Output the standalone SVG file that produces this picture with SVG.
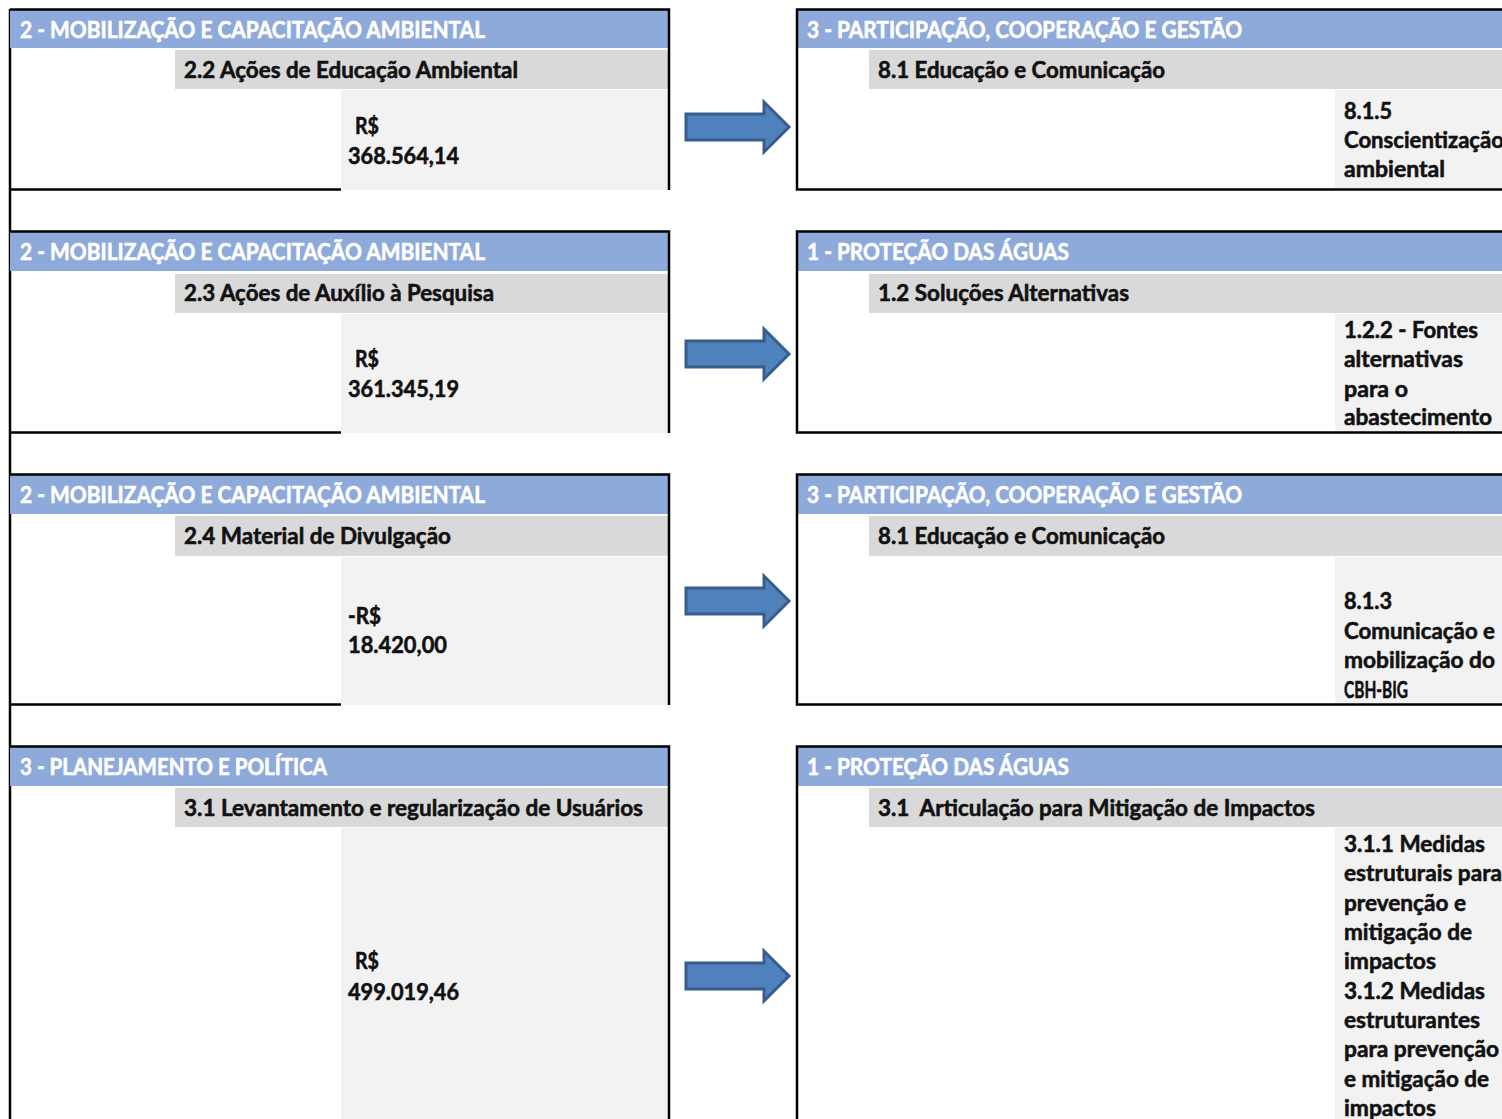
<svg xmlns="http://www.w3.org/2000/svg" width="1502" height="1119" viewBox="0 0 1502 1119">
<style>
.hd{fill:#8EAADB}
.sub{fill:#D9D9D9}
.pan{fill:#F2F2F2}
.bd{fill:none;stroke:#000;stroke-width:2.5}
text{font-family:Lato,"Open Sans","Liberation Sans",sans-serif;font-weight:700;font-size:22px;fill:#111;stroke:#111;stroke-width:0.55}
.ht{fill:#fff;stroke:#fff}
.arr{fill:#4F81BD;stroke:#385D8A;stroke-width:3;stroke-linejoin:miter}
</style>
<rect width="1502" height="1119" fill="#fff"/>

<!-- left vertical continuous line -->
<line class="bd" x1="10" y1="9" x2="10" y2="1119"/>

<g id="left1">
<rect class="hd" x="10" y="10" width="659" height="38"/>
<rect class="sub" x="175" y="50" width="494" height="39"/>
<rect class="pan" x="341" y="90" width="328" height="100"/>
<path class="bd" d="M10,9.5H669V190M10,189.5H341"/>
<text class="ht" x="20" y="38" textLength="465" lengthAdjust="spacingAndGlyphs">2 - MOBILIZAÇÃO E CAPACITAÇÃO AMBIENTAL</text>
<text x="184" y="78" textLength="334" lengthAdjust="spacingAndGlyphs">2.2 Ações de Educação Ambiental</text>
<text x="355" y="134" textLength="24" lengthAdjust="spacingAndGlyphs">R$</text>
<text x="348" y="164" textLength="111" lengthAdjust="spacingAndGlyphs">368.564,14</text>
</g>

<g id="right1">
<rect class="hd" x="798" y="10" width="704" height="38"/>
<rect class="sub" x="869" y="50" width="633" height="39"/>
<rect class="pan" x="1335" y="90" width="167" height="99"/>
<path class="bd" d="M1502,9.5H797V189.5H1502"/>
<text class="ht" x="807" y="38" textLength="435" lengthAdjust="spacingAndGlyphs">3 - PARTICIPAÇÃO, COOPERAÇÃO E GESTÃO</text>
<text x="878" y="78" textLength="287" lengthAdjust="spacingAndGlyphs">8.1 Educação e Comunicação</text>
<text x="1344" y="119" textLength="48" lengthAdjust="spacingAndGlyphs">8.1.5</text>
<text x="1344" y="148" textLength="160" lengthAdjust="spacingAndGlyphs">Conscientização</text>
<text x="1344" y="177" textLength="101" lengthAdjust="spacingAndGlyphs">ambiental</text>
</g>

<g id="left2">
<rect class="hd" x="10" y="232" width="659" height="39"/>
<rect class="sub" x="175" y="274" width="494" height="39"/>
<rect class="pan" x="341" y="314" width="328" height="119"/>
<path class="bd" d="M10,231.5H669V433M10,432.5H341"/>
<text class="ht" x="20" y="260" textLength="465" lengthAdjust="spacingAndGlyphs">2 - MOBILIZAÇÃO E CAPACITAÇÃO AMBIENTAL</text>
<text x="184" y="301" textLength="310" lengthAdjust="spacingAndGlyphs">2.3 Ações de Auxílio à Pesquisa</text>
<text x="355" y="367" textLength="24" lengthAdjust="spacingAndGlyphs">R$</text>
<text x="348" y="397" textLength="111" lengthAdjust="spacingAndGlyphs">361.345,19</text>
</g>

<g id="right2">
<rect class="hd" x="798" y="232" width="704" height="39"/>
<rect class="sub" x="869" y="274" width="633" height="39"/>
<rect class="pan" x="1335" y="314" width="167" height="118"/>
<path class="bd" d="M1502,231.5H797V432.5H1502"/>
<text class="ht" x="807" y="260" textLength="262" lengthAdjust="spacingAndGlyphs">1 - PROTEÇÃO DAS ÁGUAS</text>
<text x="878" y="301" textLength="251" lengthAdjust="spacingAndGlyphs">1.2 Soluções Alternativas</text>
<text x="1344" y="338" textLength="134" lengthAdjust="spacingAndGlyphs">1.2.2 - Fontes</text>
<text x="1344" y="367" textLength="119" lengthAdjust="spacingAndGlyphs">alternativas</text>
<text x="1344" y="397" textLength="64" lengthAdjust="spacingAndGlyphs">para o</text>
<text x="1344" y="425" textLength="148" lengthAdjust="spacingAndGlyphs">abastecimento</text>
</g>

<g id="left3">
<rect class="hd" x="10" y="475" width="659" height="39"/>
<rect class="sub" x="175" y="516" width="494" height="40"/>
<rect class="pan" x="341" y="557" width="328" height="148"/>
<path class="bd" d="M10,474.5H669V705M10,704.5H341"/>
<text class="ht" x="20" y="503" textLength="465" lengthAdjust="spacingAndGlyphs">2 - MOBILIZAÇÃO E CAPACITAÇÃO AMBIENTAL</text>
<text x="184" y="544" textLength="267" lengthAdjust="spacingAndGlyphs">2.4 Material de Divulgação</text>
<text x="348" y="624" textLength="33" lengthAdjust="spacingAndGlyphs">-R$</text>
<text x="348" y="653" textLength="99" lengthAdjust="spacingAndGlyphs">18.420,00</text>
</g>

<g id="right3">
<rect class="hd" x="798" y="475" width="704" height="39"/>
<rect class="sub" x="869" y="516" width="633" height="40"/>
<rect class="pan" x="1335" y="557" width="167" height="147"/>
<path class="bd" d="M1502,474.5H797V704.5H1502"/>
<text class="ht" x="807" y="503" textLength="435" lengthAdjust="spacingAndGlyphs">3 - PARTICIPAÇÃO, COOPERAÇÃO E GESTÃO</text>
<text x="878" y="544" textLength="287" lengthAdjust="spacingAndGlyphs">8.1 Educação e Comunicação</text>
<text x="1344" y="609" textLength="48" lengthAdjust="spacingAndGlyphs">8.1.3</text>
<text x="1344" y="639" textLength="151" lengthAdjust="spacingAndGlyphs">Comunicação e</text>
<text x="1344" y="668" textLength="151" lengthAdjust="spacingAndGlyphs">mobilização do</text>
<text x="1344" y="698" textLength="64" lengthAdjust="spacingAndGlyphs">CBH-BIG</text>
</g>

<g id="left4">
<rect class="hd" x="10" y="747" width="659" height="39"/>
<rect class="sub" x="175" y="788" width="494" height="39"/>
<rect class="pan" x="341" y="828" width="328" height="291"/>
<path class="bd" d="M10,746.5H669V1119"/>
<text class="ht" x="20" y="775" textLength="307" lengthAdjust="spacingAndGlyphs">3 - PLANEJAMENTO E POLÍTICA</text>
<text x="184" y="816" textLength="459" lengthAdjust="spacingAndGlyphs">3.1 Levantamento e regularização de Usuários</text>
<text x="355" y="969" textLength="24" lengthAdjust="spacingAndGlyphs">R$</text>
<text x="348" y="1000" textLength="111" lengthAdjust="spacingAndGlyphs">499.019,46</text>
</g>

<g id="right4">
<rect class="hd" x="798" y="747" width="704" height="39"/>
<rect class="sub" x="869" y="788" width="633" height="39"/>
<rect class="pan" x="1335" y="828" width="167" height="291"/>
<path class="bd" d="M1502,746.5H797V1119"/>
<text class="ht" x="807" y="775" textLength="262" lengthAdjust="spacingAndGlyphs">1 - PROTEÇÃO DAS ÁGUAS</text>
<text x="878" y="816" textLength="437" lengthAdjust="spacingAndGlyphs" style="white-space:pre">3.1  Articulação para Mitigação de Impactos</text>
<text x="1344" y="852" textLength="141" lengthAdjust="spacingAndGlyphs">3.1.1 Medidas</text>
<text x="1344" y="881" textLength="158" lengthAdjust="spacingAndGlyphs">estruturais para</text>
<text x="1344" y="911" textLength="122" lengthAdjust="spacingAndGlyphs">prevenção e</text>
<text x="1344" y="940" textLength="128" lengthAdjust="spacingAndGlyphs">mitigação de</text>
<text x="1344" y="969" textLength="92" lengthAdjust="spacingAndGlyphs">impactos</text>
<text x="1344" y="999" textLength="141" lengthAdjust="spacingAndGlyphs">3.1.2 Medidas</text>
<text x="1344" y="1028" textLength="136" lengthAdjust="spacingAndGlyphs">estruturantes</text>
<text x="1344" y="1057" textLength="155" lengthAdjust="spacingAndGlyphs">para prevenção</text>
<text x="1344" y="1087" textLength="145" lengthAdjust="spacingAndGlyphs">e mitigação de</text>
<text x="1344" y="1116" textLength="92" lengthAdjust="spacingAndGlyphs">impactos</text>
</g>

<g id="connectors">
<polygon class="arr" points="686,114 764,114 764,102 789,127 764,152 764,140 686,140"/>
<polygon class="arr" points="686,341 764,341 764,329 789,354 764,379 764,367 686,367"/>
<polygon class="arr" points="686,588 764,588 764,576 789,601 764,626 764,614 686,614"/>
<polygon class="arr" points="686,963 764,963 764,951 789,976 764,1001 764,989 686,989"/>
</g>
</svg>
